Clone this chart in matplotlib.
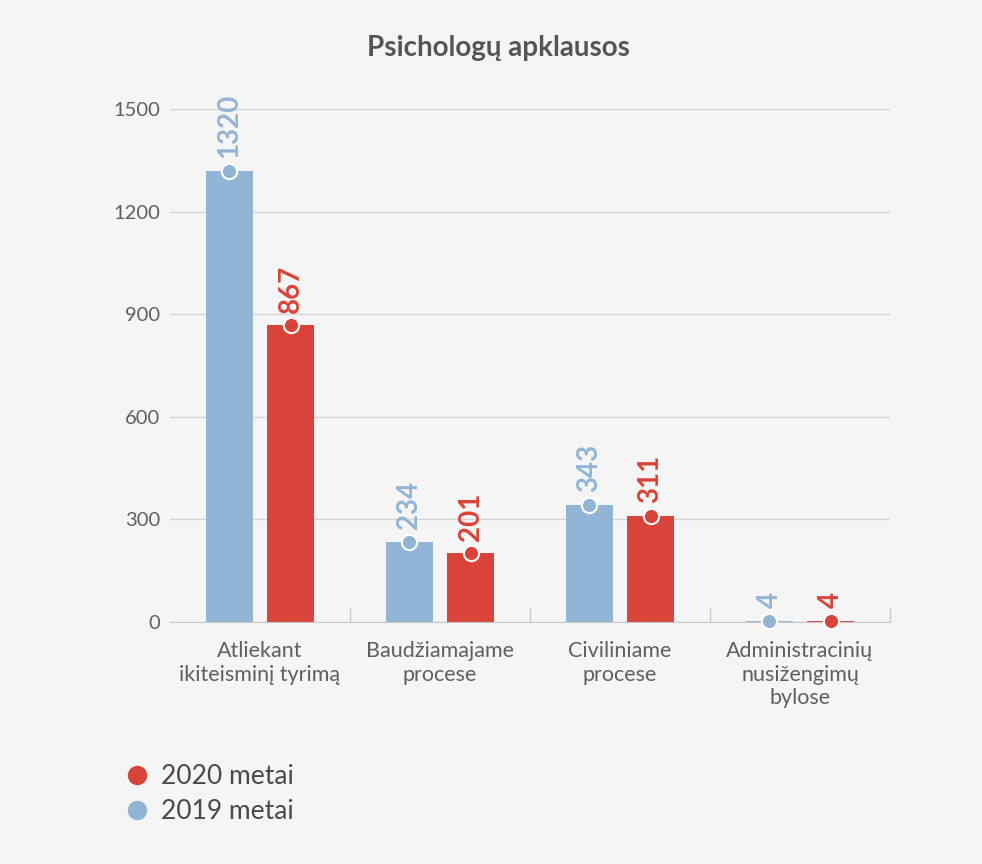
import matplotlib.pyplot as plt
from matplotlib.lines import Line2D
import numpy as np

plt.rcParams['font.family'] = ['Lato', 'DejaVu Sans']

categories = ['Atliekant\nikiteisminį tyrimą', 'Baudžiamajame\nprocese',
              'Civiliniame\nprocese', 'Administracinių\nnusižengimų\nbylose']
values_2019 = [1320, 234, 343, 4]
values_2020 = [867, 201, 311, 4]
y_ticks = [0, 300, 600, 900, 1200, 1500]

blue = '#92b5d6'
red = '#d9443a'
bg = '#f5f5f5'
text_col = '#5f5f5f'

fig = plt.figure(figsize=(9.82, 8.64), dpi=100, facecolor=bg)
ax = fig.add_axes([170/982, 1 - 622/864, 720/982, 513/864])
ax.set_facecolor(bg)

x = np.arange(len(categories))
off = 0.17
w = 0.26

ax.bar(x - off, values_2019, w, color=blue, zorder=2)
ax.bar(x + off, values_2020, w, color=red, zorder=2)
ax.plot(x - off, values_2019, 'o', color=blue, mec='white', mew=1.5, ms=11,
        zorder=3, clip_on=False)
ax.plot(x + off, values_2020, 'o', color=red, mec='white', mew=1.5, ms=11,
        zorder=3, clip_on=False)

# skaičiai virš taškų
for xi, v in zip(x - off, values_2019):
    ax.annotate(str(v), (xi, v), xytext=(0, 9), textcoords='offset points',
                rotation=90, ha='center', va='bottom', color=blue,
                fontsize=20, fontweight='bold', annotation_clip=False)
for xi, v in zip(x + off, values_2020):
    ax.annotate(str(v), (xi, v), xytext=(0, 9), textcoords='offset points',
                rotation=90, ha='center', va='bottom', color=red,
                fontsize=20, fontweight='bold', annotation_clip=False)

ax.set_xlim(-0.5, len(categories) - 0.5)
ax.set_ylim(0, 1500)
ax.set_yticks(y_ticks)
ax.set_yticklabels([str(t) for t in y_ticks], fontsize=14.5, color=text_col)
ax.yaxis.grid(True, color='#d4d4d4', lw=1, zorder=0)
ax.tick_params(axis='y', length=0, pad=7)

ax.set_xticks(x)
ax.set_xticklabels(categories, fontsize=15.5, color=text_col, linespacing=1.2)
ax.tick_params(axis='x', which='major', length=0, pad=14)
ax.set_xticks(np.arange(0.5, len(categories), 1), minor=True)
ax.tick_params(axis='x', which='minor', direction='in', length=10,
               color='#c8c8c8', width=1)

for s in ['top', 'right', 'left']:
    ax.spines[s].set_visible(False)
ax.spines['bottom'].set_color('#c8c8c8')

fig.text(0.508, 1 - 48/864, 'Psichologų apklausos', ha='center', va='center',
         fontsize=20, fontweight='bold', color='#555555')

handles = [Line2D([], [], marker='o', ls='', color=red, ms=13),
           Line2D([], [], marker='o', ls='', color=blue, ms=13)]
fig.legend(handles, ['2020 metai', '2019 metai'], loc='upper left',
           bbox_to_anchor=(100/982, 1 - 740/864), frameon=False,
           fontsize=19, labelcolor='#4a4a4a', handletextpad=0.4,
           labelspacing=0.4, handlelength=1.0)

fig.savefig('out.png', dpi=100, facecolor=bg)
